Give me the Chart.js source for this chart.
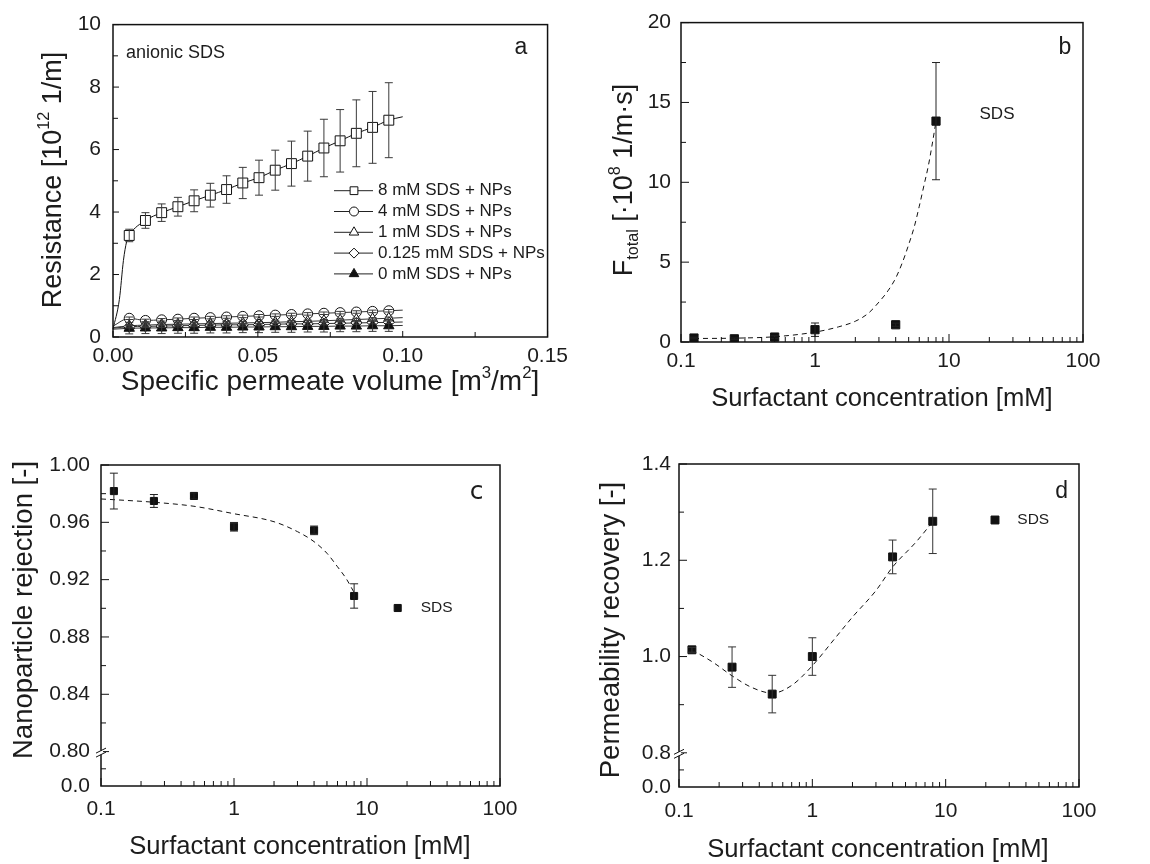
<!DOCTYPE html>
<html><head><meta charset="utf-8">
<script src="https://cdn.jsdelivr.net/npm/chart.js@4.4.1/dist/chart.umd.min.js"></script>
<style>
html,body{margin:0;padding:0;background:#fff}
body{width:1150px;height:864px;position:relative;overflow:hidden}
canvas{position:absolute}
</style></head><body>
<canvas id="ca" width="575" height="432" style="left:0;top:0"></canvas>
<canvas id="cb" width="575" height="432" style="left:575px;top:0"></canvas>
<canvas id="cc" width="575" height="432" style="left:0;top:432px"></canvas>
<canvas id="cd" width="575" height="432" style="left:575px;top:432px"></canvas>
<script>
// ---------------- DATA ----------------
// Panel a: resistance vs specific permeate volume
const volA = [0.0056,0.0112,0.0168,0.0224,0.0280,0.0336,0.0392,0.0448,0.0504,0.0560,0.0616,0.0672,0.0728,0.0784,0.0840,0.0896,0.0952];
const res8 = [3.25,3.73,3.98,4.17,4.36,4.54,4.72,4.93,5.10,5.34,5.55,5.79,6.05,6.28,6.52,6.71,6.94];
const err8 = [0.20,0.25,0.28,0.30,0.35,0.38,0.44,0.50,0.56,0.64,0.72,0.80,0.92,1.00,1.07,1.15,1.20];
const res4 = [0.60,0.53,0.55,0.57,0.60,0.62,0.64,0.66,0.68,0.70,0.72,0.74,0.76,0.78,0.80,0.82,0.84];
const err4 = [0.04,0.04,0.04,0.04,0.04,0.04,0.04,0.04,0.04,0.04,0.04,0.04,0.04,0.04,0.04,0.04,0.04];
const res1 = [0.36,0.38,0.40,0.41,0.42,0.43,0.44,0.45,0.46,0.47,0.49,0.50,0.52,0.54,0.56,0.58,0.60];
const err1 = [0.04,0.04,0.04,0.04,0.04,0.04,0.04,0.04,0.04,0.04,0.04,0.04,0.04,0.04,0.04,0.04,0.04];
const res0125 = [0.33,0.34,0.35,0.36,0.37,0.38,0.39,0.39,0.40,0.41,0.42,0.42,0.43,0.44,0.45,0.46,0.47];
const err0125 = [0.04,0.04,0.04,0.04,0.04,0.04,0.04,0.04,0.04,0.04,0.04,0.04,0.04,0.04,0.04,0.04,0.04];
const res0 = [0.28,0.29,0.29,0.30,0.30,0.31,0.31,0.32,0.32,0.33,0.33,0.34,0.34,0.35,0.35,0.36,0.36];
const err0 = [0.18,0.18,0.18,0.18,0.18,0.18,0.18,0.18,0.18,0.18,0.18,0.18,0.18,0.18,0.18,0.18,0.18];
// fitted curves in panel a (start / end pieces)
const fit8HeadX = [0,0.0022,0.0036,0.0047];
const fit8HeadY = [0.25,1.2,2.45,3.05];
const fitEndX = 0.10;
const fitStartY = [0.35,0.30,0.28,0.25];  // 4, 1, 0.125, 0 mM at V=0
const fitEndY = [7.05,0.86,0.62,0.48,0.37]; // 8, 4, 1, 0.125, 0 mM at V=0.10
const labelsA = ['8 mM SDS + NPs','4 mM SDS + NPs','1 mM SDS + NPs','0.125 mM SDS + NPs','0 mM SDS + NPs'];
const xTicksA = [0,0.05,0.10,0.15];
const xLabelsA = ['0.00','0.05','0.10','0.15'];
const yTicksA = [0,2,4,6,8,10];
const yLabelsA = ['0','2','4','6','8','10'];

// Panel b: F_total vs surfactant concentration
const concB = [0.125,0.25,0.5,1,4,8];
const fTotB = [0.25,0.20,0.31,0.77,1.08,13.83];
const errB = [0.05,0.05,0.08,0.42,0.10,3.67];
const fitBx = [0.125,0.25,0.5,1,1.5,2,2.5,3,3.5,4,4.5,5,5.5,6,6.5,7,7.5,8];
const fitBy = [0.22,0.24,0.33,0.62,0.95,1.30,1.80,2.50,3.20,4.00,5.00,6.10,7.20,8.50,9.80,11.00,12.40,13.83];
const yTicksB = [0,5,10,15,20];
const yLabelsB = ['0','5','10','15','20'];

// shared log x ticks
const xTicksLog = [0.1,1,10,100];
const xLabelsLog = ['0.1','1','10','100'];

// Panel c: nanoparticle rejection
const concC = [0.125,0.25,0.5,1,4,8];
const rejC = [0.9818,0.9749,0.9784,0.9569,0.9544,0.9086];
const errC = [0.0125,0.0045,0.0020,0.0030,0.0030,0.0085];
const fitCx = [0.1,0.125,0.25,0.5,1,2,3,4,5,6,7,8];
const fitCy = [0.9763,0.9758,0.9740,0.9712,0.9660,0.9604,0.9535,0.9465,0.9384,0.9290,0.9205,0.9110];
const yBreakC = 0.776;   // axis value drawn as "0.0" below the break
const yTicksC = [0.776,0.80,0.84,0.88,0.92,0.96,1.00];
const yLabelsC = ['0.0','0.80','0.84','0.88','0.92','0.96','1.00'];

// Panel d: permeability recovery
const concD = [0.125,0.25,0.5,1,4,8];
const recD = [1.014,0.978,0.922,1.000,1.207,1.281];
const errD = [0.005,0.042,0.039,0.039,0.035,0.067];
const fitDx = [0.125,0.18,0.25,0.35,0.5,0.7,1,1.5,2,3,4,6,8];
const fitDy = [1.014,0.988,0.960,0.936,0.924,0.940,0.981,1.040,1.082,1.137,1.186,1.238,1.280];
const yBreakD = 0.729;
const yTicksD = [0.729,0.8,1.0,1.2,1.4];
const yLabelsD = ['0.0','0.8','1.0','1.2','1.4'];

// ---------------- HELPERS ----------------
const FONT = "'Liberation Sans', Arial, Helvetica, sans-serif";
const INK = '#1c1c1c';
const TICKSIZE = 21;
const pts = (xs, ys) => xs.map((x, i) => ({x: x, y: ys[i]}));
const logMinor = [];
[0.1, 1, 10].forEach(d => { for (let k = 2; k <= 9; k++) logMinor.push(d * k); });

function drawRich(ctx, segs, x, y, size, rotate) {
  const small = size * 0.6;
  let W = 0;
  segs.forEach(s => {
    ctx.font = (s.k ? small : size) + 'px ' + FONT;
    s.w = ctx.measureText(s.t).width; W += s.w;
  });
  ctx.save();
  ctx.translate(x, y);
  if (rotate) ctx.rotate(-Math.PI / 2);
  ctx.fillStyle = INK;
  ctx.textBaseline = 'alphabetic';
  ctx.textAlign = 'left';
  let cx = -W / 2;
  const base = size * 0.36;
  segs.forEach(s => {
    ctx.font = (s.k ? small : size) + 'px ' + FONT;
    let off = 0;
    if (s.k === 1) off = -size * 0.42;
    if (s.k === -1) off = size * 0.22;
    ctx.fillText(s.t, cx, base + off);
    cx += s.w;
  });
  ctx.restore();
}

function marker(ctx, style, x, y, r, filled) {
  ctx.save();
  ctx.beginPath();
  if (style === 'rect') {
    const s = r * Math.SQRT1_2; ctx.rect(x - s, y - s, 2 * s, 2 * s);
  } else if (style === 'circle') {
    ctx.arc(x, y, r, 0, Math.PI * 2);
  } else if (style === 'triangle') {
    ctx.moveTo(x, y - r); ctx.lineTo(x + 0.866 * r, y + 0.5 * r); ctx.lineTo(x - 0.866 * r, y + 0.5 * r); ctx.closePath();
  } else if (style === 'rectRot') {
    ctx.moveTo(x - r, y); ctx.lineTo(x, y - r); ctx.lineTo(x + r, y); ctx.lineTo(x, y + r); ctx.closePath();
  }
  ctx.fillStyle = filled ? '#111' : '#fff';
  ctx.fill();
  ctx.strokeStyle = '#111'; ctx.lineWidth = 1;
  ctx.stroke();
  ctx.restore();
}

function line(ctx, x1, y1, x2, y2) { ctx.beginPath(); ctx.moveTo(x1, y1); ctx.lineTo(x2, y2); ctx.stroke(); }

function axesPlugin(cfg) {
  return {
    id: 'axes_' + cfg.name,
    afterDatasetsDraw(chart) {
      const {ctx, scales: {x, y}} = chart;
      ctx.save();
      (cfg.errs || []).forEach(e => {
        ctx.strokeStyle = e.color || '#333'; ctx.lineWidth = 1;
        e.xs.forEach((xv, i) => {
          const px = x.getPixelForValue(xv);
          const y1 = y.getPixelForValue(e.ys[i] - e.es[i]);
          const y2 = y.getPixelForValue(e.ys[i] + e.es[i]);
          line(ctx, px, y1, px, y2);
          line(ctx, px - e.cap, y1, px + e.cap, y1);
          line(ctx, px - e.cap, y2, px + e.cap, y2);
        });
      });
      ctx.restore();
    },
    afterDraw(chart) {
      const {ctx, chartArea: a, scales: {x, y}} = chart;
      ctx.save();
      ctx.strokeStyle = '#111'; ctx.lineWidth = 1.5;
      ctx.strokeRect(a.left, a.top, a.right - a.left, a.bottom - a.top);
      ctx.lineWidth = 1;
      cfg.xMajor.forEach(v => { const p = x.getPixelForValue(v); line(ctx, p, a.bottom, p, a.bottom - cfg.maj); });
      cfg.xMinor.forEach(v => { const p = x.getPixelForValue(v); line(ctx, p, a.bottom, p, a.bottom - cfg.min); });
      cfg.yMajor.forEach(v => { const p = y.getPixelForValue(v); line(ctx, a.left, p, a.left + cfg.maj, p); });
      cfg.yMinor.forEach(v => { const p = y.getPixelForValue(v); line(ctx, a.left, p, a.left + cfg.min, p); });
      if (cfg.breakAt !== undefined) {
        const p = y.getPixelForValue(cfg.breakAt);
        ctx.fillStyle = '#fff';
        ctx.fillRect(a.left - 2, p - 1, 4, 4);
        ctx.strokeStyle = '#111'; ctx.lineWidth = 1;
        line(ctx, a.left - 5, p + 1.5, a.left + 5, p - 3.5);
        line(ctx, a.left - 5, p + 5.5, a.left + 5, p + 0.5);
      }
      (cfg.texts || []).forEach(t => {
        ctx.font = t.size + 'px ' + (t.font || FONT);
        ctx.fillStyle = INK; ctx.textAlign = t.align || 'center'; ctx.textBaseline = 'middle';
        ctx.fillText(t.t, t.x, t.y);
      });
      (cfg.legend || []).forEach(l => {
        if (l.line) { ctx.strokeStyle = '#222'; ctx.lineWidth = 1; line(ctx, l.x - 20, l.y, l.x + 19, l.y); }
        marker(ctx, l.style, l.x, l.y, l.r, l.filled);
        ctx.font = l.size + 'px ' + FONT; ctx.fillStyle = INK; ctx.textAlign = 'left'; ctx.textBaseline = 'middle';
        ctx.fillText(l.label, l.tx, l.y);
      });
      (cfg.titles || []).forEach(t => drawRich(ctx, t.segs, t.x, t.y, t.size, t.rot));
      ctx.restore();
    }
  };
}

function scaleOpts(o) {
  return {
    type: o.type, min: o.min, max: o.max,
    grid: {display: false, drawTicks: false},
    border: {display: false},
    ticks: {
      color: INK, font: {family: FONT, size: TICKSIZE}, padding: o.pad,
      autoSkip: false, maxRotation: 0, minRotation: 0,
      callback: (v, i) => o.labels[i]
    },
    afterBuildTicks: s => { s.ticks = o.ticks.map(v => ({value: v})); },
    afterFit: s => { if (o.w !== undefined) s.width = o.w; if (o.h !== undefined) s.height = o.h; }
  };
}

function makeChart(id, datasets, pad, xo, yo, plugin) {
  return new Chart(document.getElementById(id), {
    type: 'scatter',
    data: {datasets: datasets},
    options: {
      responsive: false, animation: false, events: [],
      layout: {padding: pad},
      plugins: {legend: {display: false}, tooltip: {enabled: false}},
      scales: {x: scaleOpts(xo), y: scaleOpts(yo)}
    },
    plugins: [plugin]
  });
}

function fitDS(data, dash, color) {
  return {data: data, showLine: true, pointRadius: 0, borderColor: color || '#111', borderWidth: 1,
          borderDash: dash || [], cubicInterpolationMode: 'monotone', order: 2, clip: false};
}
function markDS(data, style, r, filled) {
  return {data: data, showLine: false, pointStyle: style, pointRadius: r,
          pointBackgroundColor: filled ? '#111' : '#fff', pointBorderColor: '#111', pointBorderWidth: 1, order: 0};
}

// ---------------- PANEL A ----------------
(function () {
  const lowRes = [res4, res1, res0125, res0];
  const ds = [];
  ds.push(fitDS(pts(fit8HeadX.concat(volA, [fitEndX]), fit8HeadY.concat(res8, [fitEndY[0]]))));
  lowRes.forEach((r, k) => ds.push(fitDS(pts([0].concat(volA, [fitEndX]), [fitStartY[k]].concat(r, [fitEndY[k + 1]])), [], '#333')));
  ds.push(markDS(pts(volA, res0), 'triangle', 6, true));
  ds.push(markDS(pts(volA, res0125), 'rectRot', 5.5, false));
  ds.push(markDS(pts(volA, res1), 'triangle', 6, false));
  ds.push(markDS(pts(volA, res4), 'circle', 5, false));
  ds.push(markDS(pts(volA, res8), 'rect', 7, false));
  const legendRows = [190.7, 211.5, 232.3, 253.1, 273.9];
  const styles = [['rect', 5.5, false], ['circle', 4.5, false], ['triangle', 5.5, false], ['rectRot', 5, false], ['triangle', 5.5, true]];
  const plugin = axesPlugin({
    name: 'a', maj: 6, min: 5,
    xMajor: xTicksA, xMinor: [0.025, 0.075, 0.125],
    yMajor: yTicksA, yMinor: [1, 3, 5, 7, 9],
    errs: [
      {xs: volA, ys: res8, es: err8, cap: 4, color: '#3a3a3a'},
      {xs: volA, ys: res4, es: err4, cap: 4, color: '#3a3a3a'},
      {xs: volA, ys: res1, es: err1, cap: 4, color: '#3a3a3a'},
      {xs: volA, ys: res0125, es: err0125, cap: 4, color: '#3a3a3a'},
      {xs: volA, ys: res0, es: err0, cap: 4, color: '#3a3a3a'}
    ],
    texts: [
      {t: 'anionic SDS', x: 126, y: 53, size: 18, align: 'left'},
      {t: 'a', x: 521, y: 48, size: 23}
    ],
    legend: labelsA.map((lab, i) => ({label: lab, x: 354, y: legendRows[i], tx: 378, size: 17,
      style: styles[i][0], r: styles[i][1], filled: styles[i][2], line: true})),
    titles: [
      {segs: [{t: 'Resistance [10'}, {t: '12', k: 1}, {t: ' 1/m]'}], x: 51, y: 180, size: 27, rot: true},
      {segs: [{t: 'Specific permeate volume [m'}, {t: '3', k: 1}, {t: '/m'}, {t: '2', k: 1}, {t: ']'}], x: 330, y: 380, size: 28, rot: false}
    ]
  });
  makeChart('ca', ds, {left: 0, top: 23, right: 27, bottom: 0},
    {type: 'linear', min: 0, max: 0.15, ticks: xTicksA, labels: xLabelsA, pad: 7, h: 95},
    {type: 'linear', min: 0, max: 10, ticks: yTicksA, labels: yLabelsA, pad: 12, w: 113}, plugin);
})();

// ---------------- PANEL B ----------------
(function () {
  const ds = [
    fitDS(pts(fitBx, fitBy), [5, 4]),
    markDS(pts(concB, fTotB), 'rect', 5.8, true)
  ];
  const plugin = axesPlugin({
    name: 'b', maj: 8, min: 5,
    xMajor: xTicksLog, xMinor: logMinor,
    yMajor: yTicksB, yMinor: [2.5, 7.5, 12.5, 17.5],
    errs: [{xs: concB, ys: fTotB, es: errB, cap: 4, color: '#222'}],
    texts: [
      {t: 'b', x: 490, y: 48, size: 23},
      {t: 'SDS', x: 422, y: 114, size: 17}
    ],
    titles: [
      {segs: [{t: 'F'}, {t: 'total', k: -1}, {t: ' [\u00b710'}, {t: '8', k: 1}, {t: ' 1/m\u00b7s]'}], x: 47, y: 180, size: 27, rot: true},
      {segs: [{t: 'Surfactant concentration [mM]'}], x: 307, y: 397, size: 25.6, rot: false}
    ]
  });
  makeChart('cb', ds, {left: 0, top: 21, right: 67, bottom: 0},
    {type: 'logarithmic', min: 0.1, max: 100, ticks: xTicksLog, labels: xLabelsLog, pad: 7, h: 90},
    {type: 'linear', min: 0, max: 20, ticks: yTicksB, labels: yLabelsB, pad: 10, w: 106}, plugin);
})();

// ---------------- PANEL C ----------------
(function () {
  const ds = [
    fitDS(pts(fitCx, fitCy), [5, 4]),
    markDS(pts(concC, rejC), 'rect', 5, true)
  ];
  const plugin = axesPlugin({
    name: 'c', maj: 8, min: 5,
    xMajor: xTicksLog, xMinor: logMinor,
    yMajor: yTicksC.slice(1), yMinor: [0.788, 0.82, 0.86, 0.90, 0.94, 0.98],
    breakAt: 0.80,
    errs: [{xs: concC, ys: rejC, es: errC, cap: 4, color: '#222'}],
    texts: [
      {t: 'c', x: 476.7, y: 60, size: 25, font: "'DejaVu Sans', sans-serif"},
      {t: 'SDS', x: 420.7, y: 176, size: 15.5, align: 'left'}
    ],
    legend: [{label: '', x: 397.7, y: 176, tx: 420, size: 15, style: 'rect', r: 5, filled: true, line: false}],
    titles: [
      {segs: [{t: 'Nanoparticle rejection [-]'}], x: 22, y: 178, size: 27.5, rot: true},
      {segs: [{t: 'Surfactant concentration [mM]'}], x: 300, y: 413, size: 25.6, rot: false}
    ]
  });
  makeChart('cc', ds, {left: 0, top: 33, right: 75, bottom: 0},
    {type: 'logarithmic', min: 0.1, max: 100, ticks: xTicksLog, labels: xLabelsLog, pad: 11, h: 78},
    {type: 'linear', min: yBreakC, max: 1.0, ticks: yTicksC, labels: yLabelsC, pad: 11, w: 101}, plugin);
})();

// ---------------- PANEL D ----------------
(function () {
  const ds = [
    fitDS(pts(fitDx, fitDy), [5, 4]),
    markDS(pts(concD, recD), 'rect', 5.6, true)
  ];
  const plugin = axesPlugin({
    name: 'd', maj: 8, min: 5,
    xMajor: xTicksLog, xMinor: logMinor,
    yMajor: yTicksD.slice(1), yMinor: [0.7645, 0.9, 1.1, 1.3],
    breakAt: 0.8,
    errs: [{xs: concD, ys: recD, es: errD, cap: 4, color: '#333'}],
    texts: [
      {t: 'd', x: 486.7, y: 60, size: 23},
      {t: 'SDS', x: 442.3, y: 88, size: 15.5, align: 'left'}
    ],
    legend: [{label: '', x: 420, y: 88, tx: 442, size: 15, style: 'rect', r: 5.6, filled: true, line: false}],
    titles: [
      {segs: [{t: 'Permeability recovery [-]'}], x: 34, y: 198, size: 27.5, rot: true},
      {segs: [{t: 'Surfactant concentration [mM]'}], x: 303, y: 416, size: 25.6, rot: false}
    ]
  });
  makeChart('cd', ds, {left: 0, top: 32, right: 71, bottom: 0},
    {type: 'logarithmic', min: 0.1, max: 100, ticks: xTicksLog, labels: xLabelsLog, pad: 12, h: 77},
    {type: 'linear', min: yBreakD, max: 1.4, ticks: yTicksD, labels: yLabelsD, pad: 8, w: 104}, plugin);
})();
</script>
</body></html>
